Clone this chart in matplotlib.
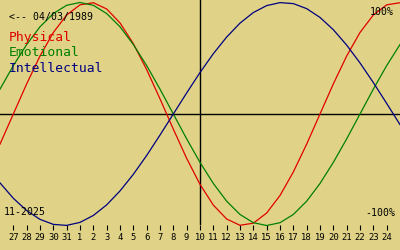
import matplotlib
matplotlib.use('Agg')
import matplotlib.pyplot as plt
import numpy as np

# Day-of-month labels along the x axis (26 Oct .. 25 Nov 2025)
day_labels = [26, 27, 28, 29, 30, 31] + list(range(1, 26))

# Daily biorhythm values
physical = [-0.270, 0.000, 0.270, 0.520, 0.731, 0.888, 0.979, 0.998, 0.942, 0.817,
            0.631, 0.398, 0.136, -0.136, -0.398, -0.631, -0.817, -0.942, -0.998, -0.979,
            -0.888, -0.731, -0.520, -0.270, 0.000, 0.270, 0.520, 0.731, 0.888, 0.979,
            0.998]
emotional = [0.223, 0.434, 0.623, 0.782, 0.901, 0.975, 1.000, 0.975, 0.901, 0.782,
             0.623, 0.434, 0.223, 0.000, -0.223, -0.434, -0.623, -0.782, -0.901, -0.975,
             -1.000, -0.975, -0.901, -0.782, -0.623, -0.434, -0.223, 0.000, 0.223, 0.434,
             0.623]
intellectual = [-0.618, -0.756, -0.866, -0.945, -0.990, -0.999, -0.972, -0.910, -0.815, -0.690,
                -0.541, -0.372, -0.189, 0.000, 0.189, 0.372, 0.541, 0.690, 0.815, 0.910,
                0.972, 0.999, 0.990, 0.945, 0.866, 0.756, 0.618, 0.458, 0.282, 0.095,
                -0.095]

series_names = ["Physical", "Emotional", "Intellectual"]
series_colors = ["#E00000", "#008000", "#000080"]
today_index = 15
birth_text = "<-- 04/03/1989"
month_text = "11-2025"
top_label = "100%"
bottom_label = "-100%"

BG = "#E0D387"
MONO = "DejaVu Sans Mono"

W, H = 400, 250
fig = plt.figure(figsize=(W / 100, H / 100), dpi=100, facecolor=BG)
axes_bottom_px = 225
ax = fig.add_axes([0, (H - axes_bottom_px) / H, 1, axes_bottom_px / H])
ax.set_facecolor(BG)

x = np.arange(len(day_labels))
for vals, col in zip([physical, emotional, intellectual], series_colors):
    ax.plot(x, vals, color=col, lw=0.9, clip_on=False, zorder=3)

ax.axhline(0, color="black", lw=1.0, zorder=2)
ax.axvline(today_index, color="black", lw=1.0, zorder=2)

center_px, amp_px = 114.0, 111.5
ax.set_xlim(0, len(day_labels) - 1)
ax.set_ylim((center_px - axes_bottom_px) / amp_px, center_px / amp_px)

ax.set_xticks(x[1:-1])
ax.set_xticklabels([str(d) for d in day_labels[1:-1]], fontfamily=MONO, fontsize=6.4)
ax.set_yticks([])
ax.tick_params(axis="x", direction="out", length=3.8, width=0.8, color="black", pad=1.8)
for s in ax.spines.values():
    s.set_visible(False)


def px_text(xp, yp, s, **kw):
    fig.text(xp / W, 1 - yp / H, s, fontfamily=MONO, **kw)


px_text(9, 16.5, birth_text, fontsize=7.1, color="black", va="center", ha="left")
for i, (name, col) in enumerate(zip(series_names, series_colors)):
    px_text(9, 37.5 + i * 15.3, name, fontsize=9.4, color=col, va="center", ha="left")
px_text(4, 212, month_text, fontsize=7.1, color="black", va="center", ha="left")
px_text(394, 12, top_label, fontsize=7.1, color="black", va="center", ha="right")
px_text(395, 213, bottom_label, fontsize=7.1, color="black", va="center", ha="right")

fig.savefig("out.png", dpi=100, facecolor=BG)
